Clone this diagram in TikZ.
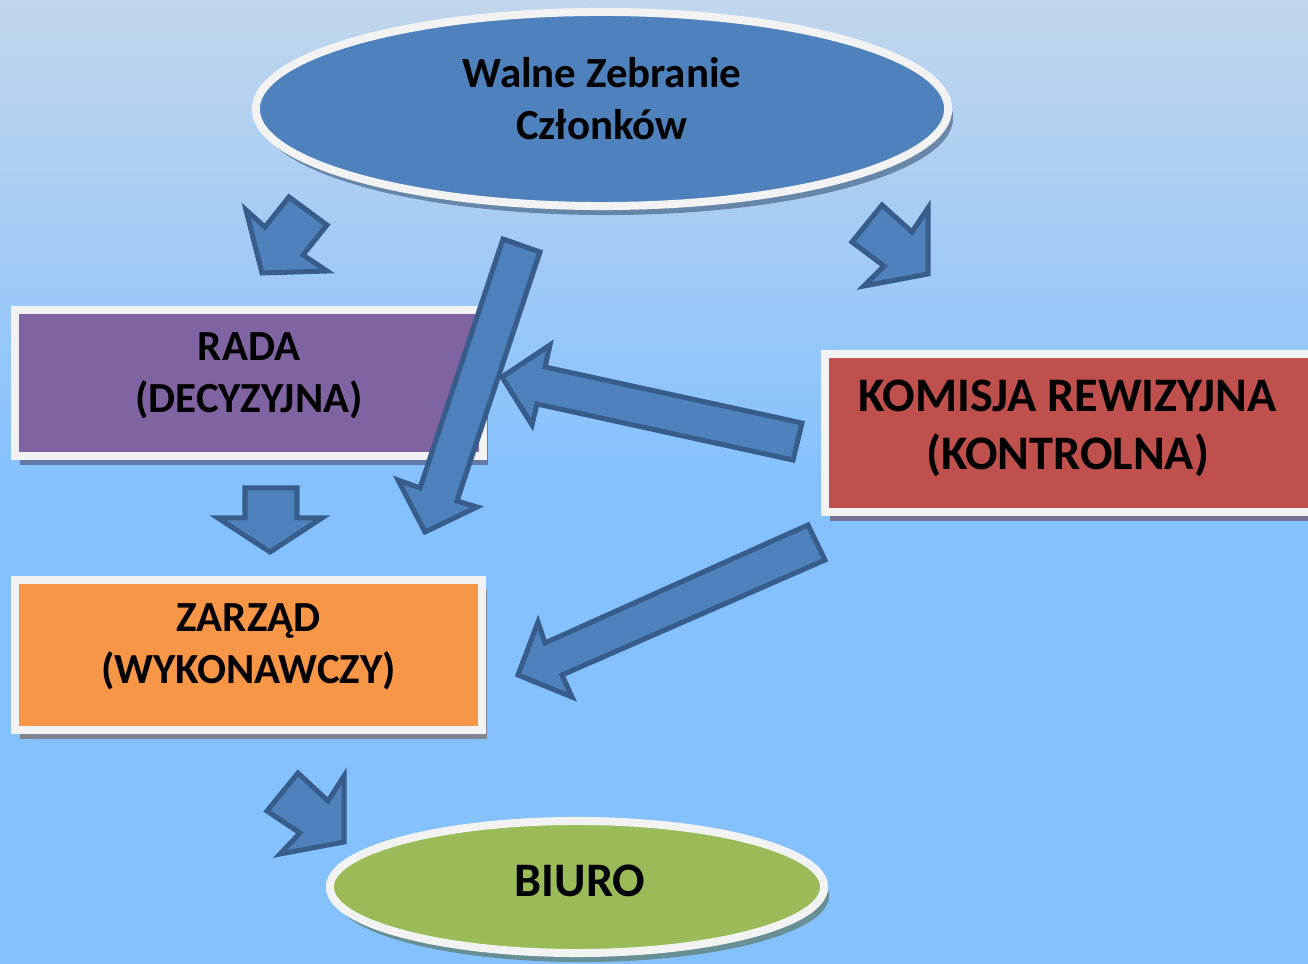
\documentclass[tikz,border=0pt]{standalone}
\usepackage{fontspec}
\setmainfont{Carlito}
\usetikzlibrary{shapes.geometric,shadows}

\definecolor{bgtop}{HTML}{C2D6EB}
\definecolor{bgbot}{HTML}{85C1FE}
\definecolor{edgewhite}{HTML}{F2F2F2}
\definecolor{walnefill}{HTML}{4F81BD}
\definecolor{radafill}{HTML}{8064A2}
\definecolor{komisjafill}{HTML}{C0504D}
\definecolor{zarzadfill}{HTML}{F79646}
\definecolor{biurofill}{HTML}{9BBB59}
\definecolor{arrowfill}{HTML}{4F81BD}
\definecolor{arrowedge}{HTML}{385D8A}

\begin{document}
\begin{tikzpicture}[x=0.01cm, y=-0.01cm,
    panel/.style={draw=edgewhite, line width=0.08cm, inner sep=0pt},
    oval/.style={panel, ellipse},
    dropshade/.style={fill=#1, drop shadow={shadow xshift=0.05cm, shadow yshift=-0.09cm,
      opacity=0.5, fill=#1!50!black}},
    caption/.style={align=center, inner sep=0pt, font=\bfseries\fontsize{12.2}{14.8}\selectfont},
    bigcaption/.style={caption, font=\bfseries\fontsize{13.7}{16.5}\selectfont},
    blockarrow/.style={draw=arrowedge, fill=arrowfill, line width=0.05cm, line join=miter}]

      \shade [top color=bgtop, bottom color=bgbot] (0,0) rectangle (1308,480);
      \fill [bgbot] (0,480) rectangle (1308,964);
      \useasboundingbox (0,0) rectangle (1308,964);

      \node [oval, dropshade=walnefill, minimum width=6.92cm, minimum height=1.94cm] (walne) at (602,109) {};
      \node [panel, dropshade=radafill, minimum width=4.675cm, minimum height=1.46cm] (rada) at (249,383) {};
      \node [panel, dropshade=komisjafill, minimum width=4.87cm, minimum height=1.575cm] (komisja) at (1068.5,433) {};
      \node [panel, dropshade=zarzadfill, minimum width=4.67cm, minimum height=1.5cm] (zarzad) at (248.5,654.6) {};
      \node [oval, dropshade=biurofill, minimum width=4.94cm, minimum height=1.32cm] (biuro) at (577,887) {};

      \node [caption] (walnetext) at (602,99) {Walne Zebranie\\Członków};
      \node [caption] (radatext) at (249,376) {RADA\\(DECYZYJNA)};
      \node [bigcaption] (komisjatext) at (1067.5,428) {KOMISJA REWIZYJNA\\(KONTROLNA)};
      \node [caption] (zarzadtext) at (248.5,647) {ZARZĄD\\(WYKONAWCZY)};
      \node [bigcaption] (biurotext) at (580,881) {BIURO};

      \draw [blockarrow] (246,210) -- (265,227) -- (289,197) -- (327,225) -- (303,255) -- (327,271) -- (262,273) -- cycle;
      \draw [blockarrow] (852,242) -- (882,205) -- (912,232) -- (928,208) -- (928,274) -- (864,286) -- (884,266) -- cycle;
      \draw [blockarrow] (267,811) -- (298,773) -- (328,801) -- (344,776) -- (344,842) -- (280,854) -- (300,833) -- cycle;
      \draw [blockarrow] (245,488) -- (297,488) -- (297,518) -- (322,518) -- (270,552) -- (218,518) -- (245,518) -- cycle;
      \draw [blockarrow] (502,377) -- (550,345) -- (545,367) -- (802,423) -- (793,460) -- (537,404) -- (532,425) -- cycle;
      \draw [blockarrow] (503,239) -- (540,252) -- (457,501) -- (477,507) -- (425,532) -- (398,480) -- (420,488) -- cycle;
      \draw [blockarrow] (518,675) -- (538,622) -- (545,643) -- (808,525) -- (825,560) -- (562,675) -- (572,697) -- cycle;
    \end{tikzpicture}
\end{document}
